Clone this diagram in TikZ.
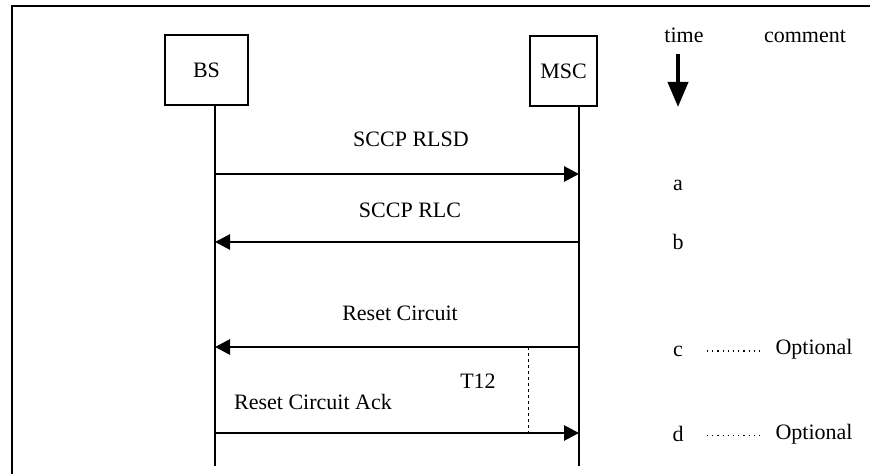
\documentclass[tikz,border=0pt]{standalone}
\usepackage{fontspec}
\setmainfont{Liberation Serif}
\usetikzlibrary{arrows.meta}

\begin{document}
\begin{tikzpicture}[x=0.5pt,y=-0.5pt,font=\fontsize{11}{13}\selectfont,
  entity/.style={draw,line width=0.9pt,minimum height=35pt,inner sep=0pt},
  life/.style={line width=0.8pt},
  msg/.style={line width=1.4pt,-{Triangle[length=7.5pt,width=7.5pt]}},
  optline/.style={line width=0.6pt,dotted}]
\useasboundingbox (0,0) rectangle (870,474);

% frame
\coordinate (fl) at (12,474);
\coordinate (ful) at (12,6);
\coordinate (fur) at (870,6);
\draw[line width=1.3pt] (fl) -- (ful) -- (fur);

% entities
\node[entity,minimum width=41.5pt] (bs) at (206.5,70) {BS};
\node[entity,minimum width=33.5pt] (msc) at (563.5,71) {MSC};

% lifelines
\coordinate (bsend) at (215,466);
\coordinate (mscend) at (579,466);
\draw[life] (bs.south -| bsend) -- (bsend);
\draw[life] (msc.south -| mscend) -- (mscend);

% message ends
\coordinate (a1) at (215,174);
\coordinate (a2) at (579,174);
\coordinate (b1) at (215,242);
\coordinate (b2) at (579,242);
\coordinate (c1) at (215,347);
\coordinate (c2) at (579,347);
\coordinate (d1) at (215,433);
\coordinate (d2) at (579,433);

% messages
\draw[msg] (a1) -- (a2);
\node (rlsd) at (411,139) {SCCP RLSD};
\draw[msg] (b2) -- (b1);
\node (rlc) at (410,210) {SCCP RLC};
\draw[msg] (c2) -- (c1);
\node (reset) at (400,313) {Reset Circuit};
\draw[msg] (d1) -- (d2);
\node (resetack) at (313,402) {Reset Circuit Ack};

% timer T12
\coordinate (t1) at (528,347);
\coordinate (t2) at (528,433);
\draw[line width=0.5pt,dash pattern=on 1.5pt off 1.5pt] (t1) -- (t2);
\node (t12) at (478,381) {T12};

% time and comment column
\node[anchor=base] (time) at (684,43) {time};
\node[anchor=base] (comment) at (805,43) {comment};
\coordinate (ts) at (678,54);
\coordinate (te) at (678,107);
\draw[line width=2pt,-{Triangle[length=12.5pt,width=10pt]}] (ts) -- (te);

\node[anchor=base] (la) at (678,191) {a};
\node[anchor=base] (lb) at (678,250) {b};
\node[anchor=base] (lc) at (678,357) {c};
\node[anchor=base] (ld) at (678,441) {d};

% optional comments
\node[anchor=base] (optc) at (814,355) {Optional};
\node[anchor=base] (optd) at (814,439) {Optional};
\coordinate (oc1) at (707,351);
\coordinate (oc2) at (760,351);
\coordinate (od1) at (707,435);
\coordinate (od2) at (760,435);
\draw[optline,line width=0.8pt] (oc1) -- (oc2);
\draw[optline,line width=0.4pt] (od1) -- (od2);

\end{tikzpicture}
\end{document}
